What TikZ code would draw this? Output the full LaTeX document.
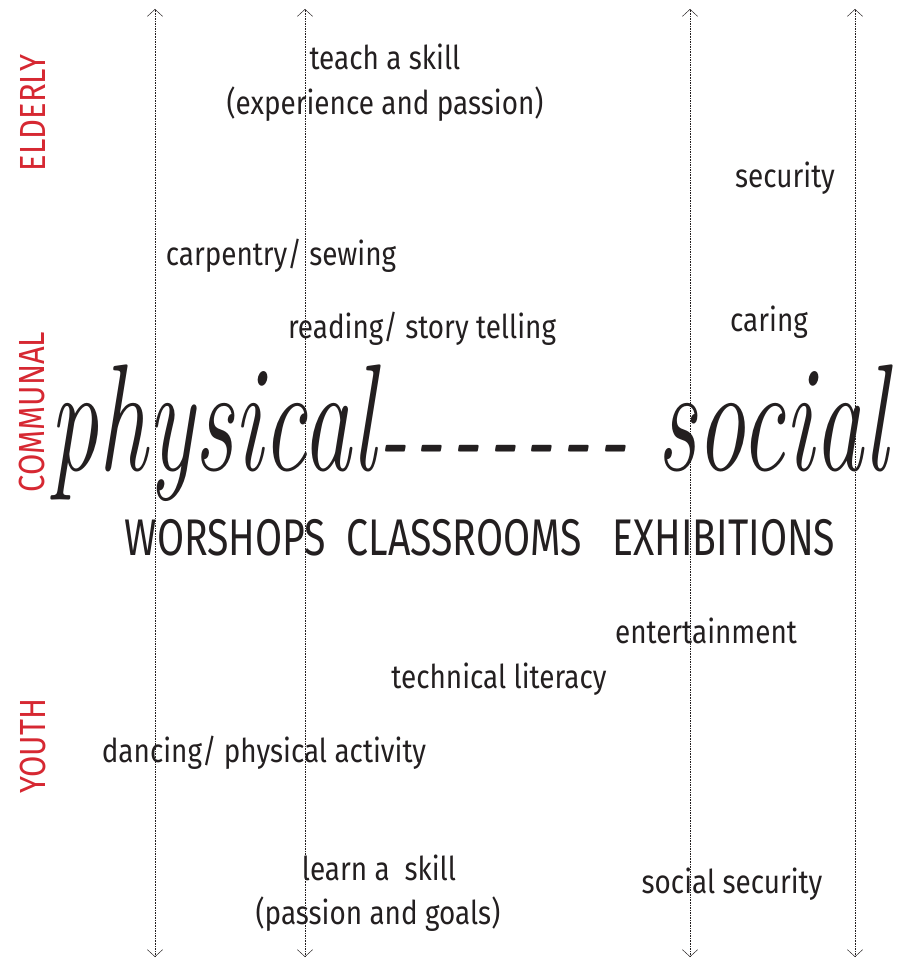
\documentclass[tikz,border=0pt]{standalone}
\usepackage{fontspec}
\newfontfamily\notefont{Fira Sans}[FakeStretch=0.85]
\newfontfamily\spacefont{Fira Sans}[FakeStretch=0.76]
\usetikzlibrary{arrows.meta,positioning}
\definecolor{agered}{RGB}{214,40,50}
\definecolor{inkgrey}{RGB}{35,31,32}
\newcommand{\gapdash}{-\kern10pt}

\begin{document}
\begin{tikzpicture}[
    x=0.03cm, y=-0.03cm,
    axis/.style={densely dotted, line width=0.4pt, draw=inkgrey,
      {Straight Barb[length=6pt,width=13pt,line width=0.4pt]}-{Straight Barb[length=6pt,width=13pt,line width=0.4pt]}},
    note/.style={font=\notefont\fontsize{28}{38}\selectfont, text=inkgrey, align=center, inner sep=0pt},
    group/.style={font=\notefont\fontsize{31}{36}\selectfont, text=agered, rotate=90, inner sep=0pt},
    word/.style={font=\fontsize{130}{130}\selectfont\itshape, text=inkgrey, inner sep=0pt, xscale=0.645},
    dashline/.style={font=\fontsize{110}{110}\selectfont\itshape, text=inkgrey, inner sep=0pt, xscale=0.645},
    space/.style={font=\spacefont\fontsize{44}{50}\selectfont, text=inkgrey, inner sep=0pt}
]
\useasboundingbox (0,0) rectangle (905,959);

% axes
\foreach \x/\n in {155/a, 305/b, 690/c, 855/d} {
  \coordinate (top\n) at (\x,9);
  \coordinate (bot\n) at (\x,957);
  \draw[axis] (top\n) -- (bot\n);
}

% age groups
\node[group] (elderly) at (33,113) {ELDERLY};
\node[group] (communal) at (32,412) {COMMUNAL};
\node[group] (youth) at (33,746) {YOUTH};

% elderly side
\node[note, anchor=base] (teach) at (385,70) {teach a skill};
\node[note, anchor=base] (exper) at (385,115) {(experience and passion)};
\node[note, anchor=base] (secur) at (785,188) {security};
\node[note, anchor=base] (carp) at (281,265) {carpentry/ sewing};
\node[note, anchor=base] (read) at (422,338) {reading/ story telling};
\node[note, anchor=base] (caring) at (769,331) {caring};

% main line
\node[word, anchor=base west] (phys) at (49,470) {physical};
\node[word, anchor=base east] (soc) at (888,470) {social};
\node[dashline, anchor=base west] (dash) at (378,476) {\gapdash\gapdash\gapdash\gapdash\gapdash\gapdash-};
\node[space, anchor=base] (spaces) at (480,555) {WORSHOPS\ \ CLASSROOMS\ \ \ EXHIBITIONS};

% youth side
\node[note, anchor=base] (enter) at (706,643) {entertainment};
\node[note, anchor=base] (tech) at (499,688) {technical literacy};
\node[note, anchor=base] (dance) at (264,762) {dancing/ physical activity};
\node[note, anchor=base] (learn) at (379,880) {learn a\ \ skill};
\node[note, anchor=base] (goals) at (378,924) {(passion and goals)};
\node[note, anchor=base] (socsec) at (732,893) {social security};

\end{tikzpicture}
\end{document}
